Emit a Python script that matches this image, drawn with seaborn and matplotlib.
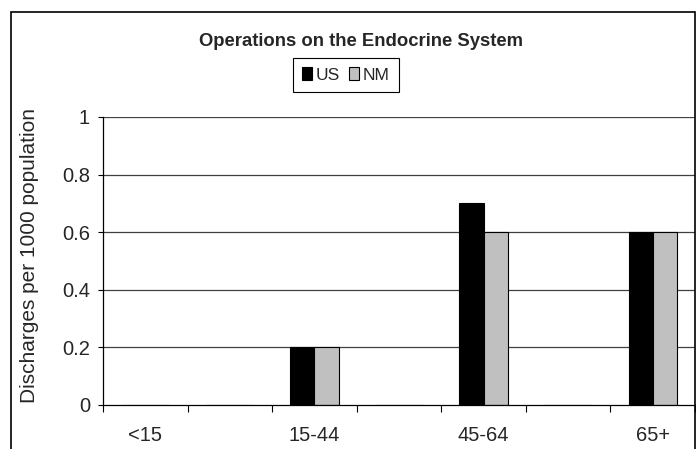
import pandas as pd
import seaborn as sns
import matplotlib.pyplot as plt
from matplotlib.patches import Rectangle

# age groups (the unlabeled slots are empty categories in the original chart)
age_groups = ['<15', 'g1', '15-44', 'g2', '45-64', 'g3', '65+']
tick_labels = ['<15', '', '15-44', '', '45-64', '', '65+']
us_vals = [0, 0, 0.2, 0, 0.7, 0, 0.6]
nm_vals = [0, 0, 0.2, 0, 0.6, 0, 0.6]
y_ticks = [0, 0.2, 0.4, 0.6, 0.8, 1]

df = pd.DataFrame({
    'age': age_groups * 2,
    'rate': us_vals + nm_vals,
    'area': ['US'] * len(age_groups) + ['NM'] * len(age_groups),
})

sns.set_style('white')
plt.rcParams['font.family'] = ['Liberation Sans', 'DejaVu Sans']

fig = plt.figure(figsize=(6.96, 4.49), dpi=100)
ax = fig.add_axes([103 / 696, 1 - 405 / 449, 592 / 696, 288 / 449])

sns.barplot(data=df, x='age', y='rate', hue='area', order=age_groups,
            hue_order=['US', 'NM'], palette={'US': 'black', 'NM': '#c0c0c0'},
            width=0.57, gap=0, edgecolor='black', linewidth=0.8, ax=ax)

ax.set_ylim(0, 1)
ax.set_xlim(-0.5, len(age_groups) - 0.5)
ax.set_yticks(y_ticks)
ax.set_yticklabels(['0', '0.2', '0.4', '0.6', '0.8', '1'], fontsize=14.5)
ax.set_xticks(range(len(age_groups)))
ax.set_xticklabels(tick_labels, fontsize=14.5)
ax.set_xticks([i - 0.5 for i in range(len(age_groups) + 1)], minor=True)
ax.tick_params(axis='x', which='major', length=0, pad=15)
ax.tick_params(axis='x', which='minor', direction='out', length=5, width=0.8, color='black', bottom=True)
ax.tick_params(axis='y', direction='out', length=3.6, width=0.8, color='black', left=True, pad=5.8)
ax.set_xlabel('')
ax.set_ylabel('Discharges per 1000 population', fontsize=15)
ax.yaxis.set_label_coords((39 - 103) / 592, 0.52)

for v in y_ticks[1:]:
    ax.axhline(v, color='#404040', lw=0.9, zorder=0)
ax.set_axisbelow(True)

for s in ['top', 'right']:
    ax.spines[s].set_visible(False)
for s in ['left', 'bottom']:
    ax.spines[s].set_color('black')
    ax.spines[s].set_linewidth(0.9)

fig.text(361 / 696, 1 - 46 / 449, 'Operations on the Endocrine System',
         ha='center', va='baseline', fontsize=13.3, fontweight='bold')

handles, labels = ax.get_legend_handles_labels()
ax.legend(handles, labels, loc='center', bbox_to_anchor=(346 / 696, 1 - 75 / 449),
          bbox_transform=fig.transFigure, ncol=2, frameon=True, fancybox=False,
          edgecolor='black', framealpha=1, fontsize=12.5, handlelength=0.55,
          handleheight=0.8, handletextpad=0.25, columnspacing=0.5,
          borderpad=0.55, borderaxespad=0)
ax.get_legend().get_frame().set_linewidth(0.8)

# outer chart frame
fig.patches.append(Rectangle((11 / 696, -0.1), 684 / 696, 1.1 - 12 / 449,
                             transform=fig.transFigure, fill=False,
                             edgecolor='black', lw=1.2))

fig.savefig('out.png', dpi=100)
